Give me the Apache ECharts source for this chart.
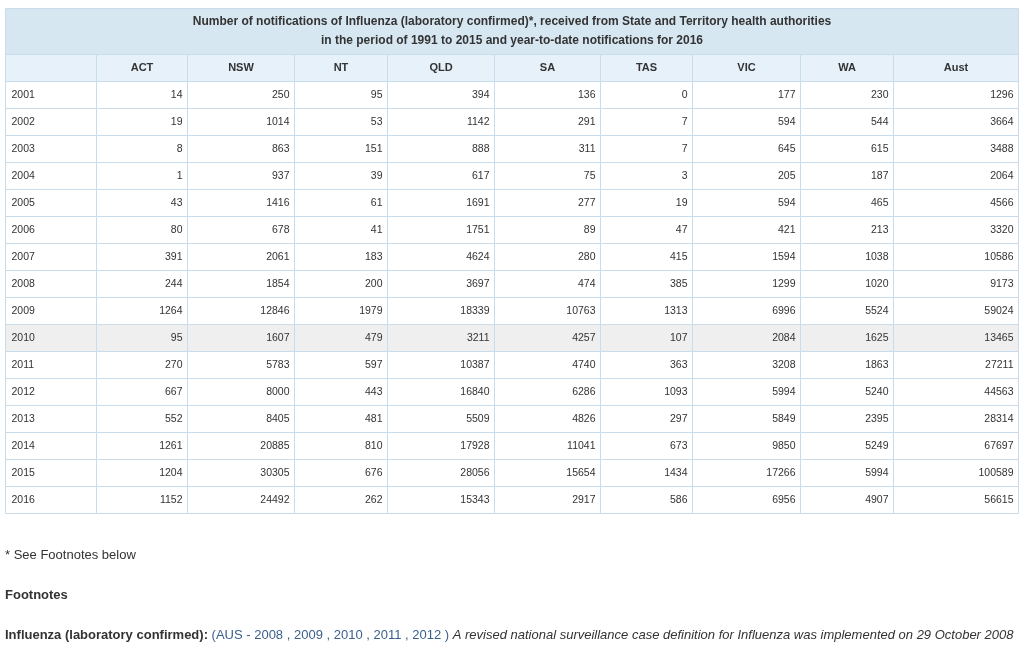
<!DOCTYPE html>
<html style="height: 100%">
  <head>
    <meta charset="UTF-8" />
    <title>Influenza notifications table</title>
    <script src="https://cdn.jsdelivr.net/npm/echarts@6/dist/echarts.min.js"></script>
  </head>
  <body style="height: 100%; margin: 0; background: #fff">
    <div id="main" style="width: 1034px; height: 645px"></div>
    <script>
      const chart = echarts.init(document.getElementById('main'))

      const titleLines = [
        'Number of notifications of Influenza (laboratory confirmed)*, received from State and Territory health authorities',
        'in the period of 1991 to 2015 and year-to-date notifications for 2016',
      ]
      const states = ['ACT', 'NSW', 'NT', 'QLD', 'SA', 'TAS', 'VIC', 'WA', 'Aust']
      const years = ['2001', '2002', '2003', '2004', '2005', '2006', '2007', '2008',
        '2009', '2010', '2011', '2012', '2013', '2014', '2015', '2016']

      const ACT = [14, 19, 8, 1, 43, 80, 391, 244, 1264, 95, 270, 667, 552, 1261, 1204, 1152]
      const NSW = [250, 1014, 863, 937, 1416, 678, 2061, 1854, 12846, 1607, 5783, 8000, 8405, 20885, 30305, 24492]
      const NT = [95, 53, 151, 39, 61, 41, 183, 200, 1979, 479, 597, 443, 481, 810, 676, 262]
      const QLD = [394, 1142, 888, 617, 1691, 1751, 4624, 3697, 18339, 3211, 10387, 16840, 5509, 17928, 28056, 15343]
      const SA = [136, 291, 311, 75, 277, 89, 280, 474, 10763, 4257, 4740, 6286, 4826, 11041, 15654, 2917]
      const TAS = [0, 7, 7, 3, 19, 47, 415, 385, 1313, 107, 363, 1093, 297, 673, 1434, 586]
      const VIC = [177, 594, 645, 205, 594, 421, 1594, 1299, 6996, 2084, 3208, 5994, 5849, 9850, 17266, 6956]
      const WA = [230, 544, 615, 187, 465, 213, 1038, 1020, 5524, 1625, 1863, 5240, 2395, 5249, 5994, 4907]
      const AUST = [1296, 3664, 3488, 2064, 4566, 3320, 10586, 9173, 59024, 13465, 27211, 44563, 28314, 67697, 100589, 56615]
      const columns = [ACT, NSW, NT, QLD, SA, TAS, VIC, WA, AUST]

      const highlightYear = '2010'

      // layout (pixel units on hidden value axes)
      const colWidths = [91, 91, 107, 93, 107, 106, 92, 108, 93, 125]
      const rowHeights = [46, 27].concat(years.map(() => 27))
      const colEdges = [0]
      colWidths.forEach((w) => colEdges.push(colEdges[colEdges.length - 1] + w))
      const rowEdges = [0]
      rowHeights.forEach((h) => rowEdges.push(rowEdges[rowEdges.length - 1] + h))

      // cells: [colStart, colEnd, row, text, kind]
      const cells = []
      cells.push([0, colWidths.length, 0, titleLines.join('\n'), 'title'])
      cells.push([0, 1, 1, '', 'head'])
      states.forEach((s, i) => cells.push([i + 1, i + 2, 1, s, 'head']))
      years.forEach((y, r) => {
        const kind = y === highlightYear ? 'hl' : 'body'
        cells.push([0, 1, r + 2, y, kind + 'Year'])
        columns.forEach((col, c) => cells.push([c + 1, c + 2, r + 2, String(col[r]), kind]))
      })

      const fills = { title: '#d7e7f2', head: '#e7f1fa', body: '#ffffff', bodyYear: '#ffffff', hl: '#efefef', hlYear: '#efefef' }
      const border = '#c9dceb'
      const textColor = '#333333'
      const family = '"Liberation Sans", Arial, sans-serif'

      function renderItem(params, api) {
        const c0 = api.value(0)
        const c1 = api.value(1)
        const r = api.value(2)
        const kind = cells[params.dataIndex][4]
        const text = cells[params.dataIndex][3]
        const p0 = api.coord([colEdges[c0], rowEdges[r]])
        const p1 = api.coord([colEdges[c1], rowEdges[r + 1]])
        const x0 = Math.round(p0[0]) + 0.5
        const y0 = Math.round(p0[1]) + 0.5
        const x1 = Math.round(p1[0]) + 0.5
        const y1 = Math.round(p1[1]) + 0.5
        const children = [
          {
            type: 'rect',
            shape: { x: x0, y: y0, width: x1 - x0, height: y1 - y0 },
            style: { fill: fills[kind], stroke: border, lineWidth: 1 },
          },
        ]
        let tx, align, font
        if (kind === 'title') {
          tx = (x0 + x1) / 2
          align = 'center'
          font = 'bold 12px ' + family
        } else if (kind === 'head') {
          tx = (x0 + x1) / 2
          align = 'center'
          font = 'bold 11px ' + family
        } else if (kind === 'bodyYear' || kind === 'hlYear') {
          tx = x0 + 6
          align = 'left'
          font = '10.5px ' + family
        } else {
          tx = x1 - 5
          align = 'right'
          font = '10.5px ' + family
        }
        children.push({
          type: 'text',
          style: {
            text: text,
            x: tx,
            y: (y0 + y1) / 2,
            align: align,
            verticalAlign: 'middle',
            font: font,
            lineHeight: 19,
            fill: textColor,
          },
        })
        return { type: 'group', children: children }
      }

      const option = {
        animation: false,
        grid: { left: 5, right: 16, top: 8, bottom: 132 },
        xAxis: { type: 'value', min: 0, max: colEdges[colEdges.length - 1], show: false },
        yAxis: { type: 'value', min: 0, max: rowEdges[rowEdges.length - 1], inverse: true, show: false },
        series: [
          {
            type: 'custom',
            renderItem: renderItem,
            data: cells.map((c) => [c[0], c[1], c[2]]),
            silent: true,
          },
        ],
        graphic: [
          {
            type: 'text',
            left: 5,
            top: 549,
            style: { text: '* See Footnotes below', font: '13px ' + family, fill: textColor },
          },
          {
            type: 'text',
            left: 5,
            top: 589,
            style: { text: 'Footnotes', font: 'bold 13px ' + family, fill: textColor },
          },
          {
            type: 'text',
            left: 5,
            top: 629,
            style: {
              text: '{b|Influenza (laboratory confirmed):} {l|(AUS - 2008 , 2009 , 2010 , 2011 , 2012 )} {i|A revised national surveillance case definition for Influenza was implemented on 29 October 2008}',
              font: '13px ' + family,
              fill: textColor,
              rich: {
                b: { fontWeight: 'bold', fontSize: 13, fontFamily: family, fill: textColor },
                l: { fontSize: 13, fontFamily: family, fill: '#3a5f8c' },
                i: { fontStyle: 'italic', fontSize: 13, fontFamily: family, fill: textColor },
              },
            },
          },
        ],
      }

      chart.setOption(option)
    </script>
  </body>
</html>
